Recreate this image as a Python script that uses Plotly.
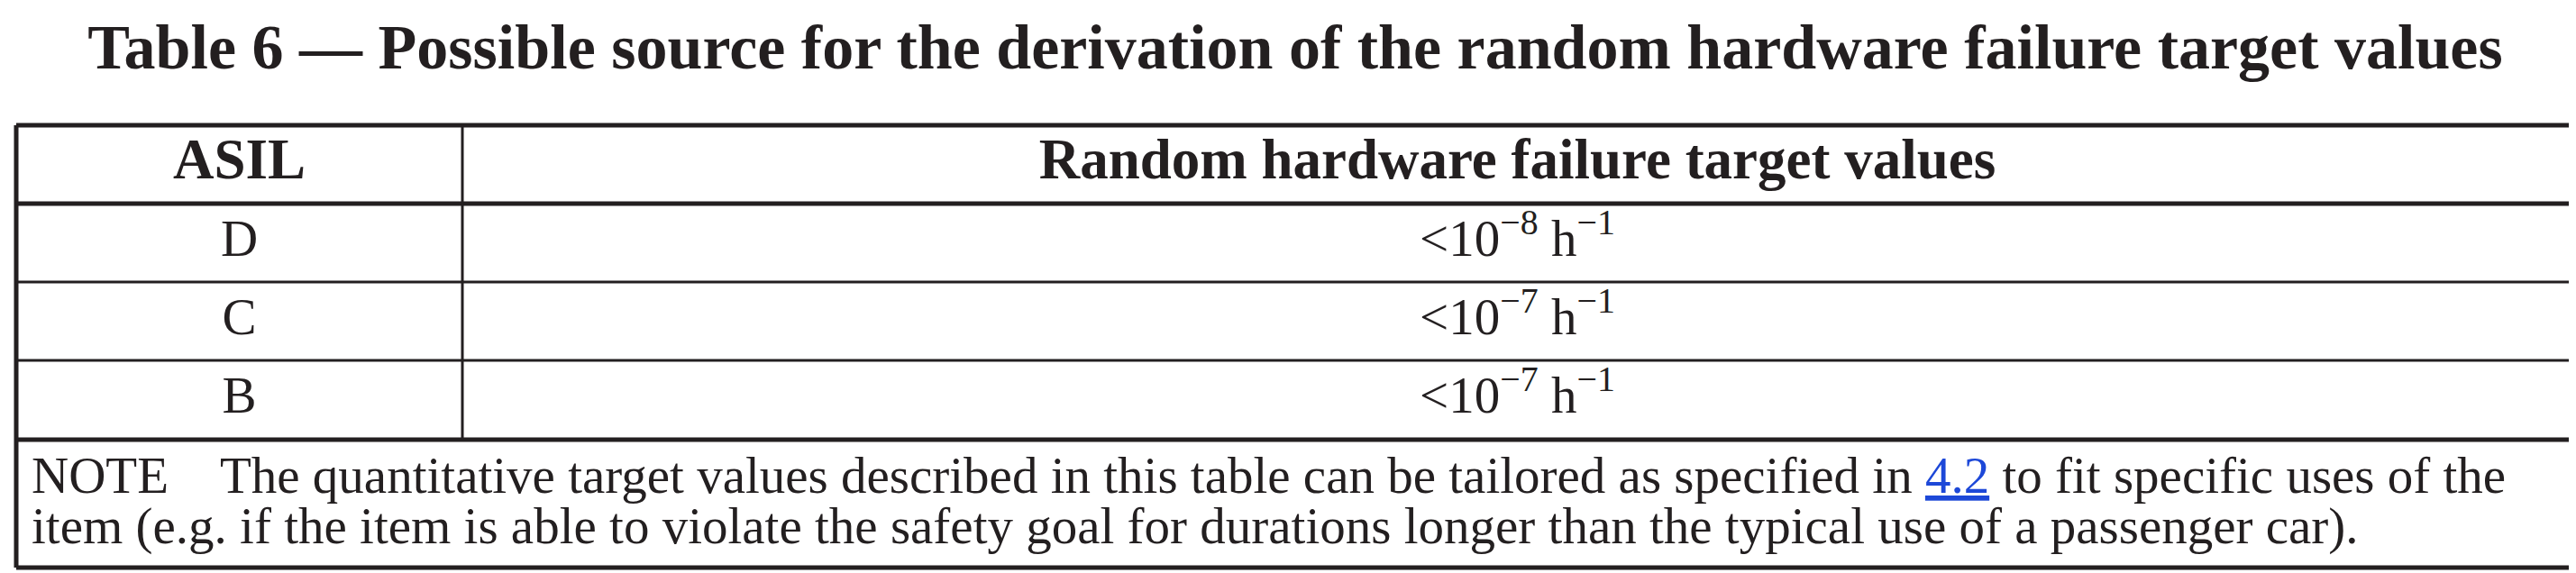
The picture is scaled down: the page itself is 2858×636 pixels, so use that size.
import plotly.graph_objects as go

W, H = 2858, 636

title = "Table 6 — Possible source for the derivation of the random hardware failure target values"
headers = ["ASIL", "Random hardware failure target values"]
asil = ["D", "C", "B"]
exponents = [-8, -7, -7]
unit_exp = -1
note_lines = [
    "NOTE\u00a0\u00a0\u00a0\u00a0The quantitative target values described in this table can be tailored as specified in "
    "<span style='color:#1d48d8'><u>4.2</u></span> to fit specific uses of the",
    "item (e.g. if the item is able to violate the safety goal for durations longer than the typical use of a passenger car).",
]

ink = "#231f20"
serif = "Liberation Serif"

# table geometry (px, y measured from top)
x_left, x_div, x_right = 10, 505, 2846
row_edges = [131, 218, 305, 392, 480, 622]
note_mid = [519, 576]

col_mid = [(x_left + x_div) / 2, (x_div + x_right) / 2]
row_mid = [(row_edges[i] + row_edges[i + 1]) / 2 for i in range(len(row_edges) - 1)]


def sup(n):
    return "<sup>" + str(n).replace("-", "−") + "</sup>"


values = ["<10" + sup(e) + " h" + sup(unit_exp) for e in exponents]

fig = go.Figure()

# header row
fig.add_trace(go.Scatter(
    x=col_mid, y=[row_mid[0]] * 2,
    mode="text",
    text=["<b>" + h + "</b>" for h in headers],
    textposition="middle center",
    textfont=dict(family=serif, size=63, color=ink),
    hoverinfo="skip",
))

# body rows
fig.add_trace(go.Scatter(
    x=[col_mid[0]] * len(asil) + [col_mid[1]] * len(values),
    y=row_mid[1:4] + row_mid[1:4],
    mode="text",
    text=asil + values,
    textposition="middle center",
    textfont=dict(family=serif, size=57, color=ink),
    hoverinfo="skip",
))

# grid lines
thick, thin = 5, 3
lines = []
for i, y in enumerate(row_edges):
    w = thick if i in (0, 1, 4, 5) else thin
    lines.append(dict(x0=x_left, x1=x_right, y0=y, y1=y, w=w))
lines.append(dict(x0=x_left, x1=x_left, y0=row_edges[0], y1=row_edges[-1], w=thick))
lines.append(dict(x0=x_right, x1=x_right, y0=row_edges[0], y1=row_edges[-1], w=thick))
lines.append(dict(x0=x_div, x1=x_div, y0=row_edges[0], y1=row_edges[4], w=thin))

for l in lines:
    fig.add_shape(type="line", xref="x", yref="y",
                  x0=l["x0"], x1=l["x1"], y0=l["y0"], y1=l["y1"],
                  line=dict(color=ink, width=l["w"]))

for txt, ym in zip(note_lines, note_mid):
    fig.add_annotation(
        x=25, y=ym, xref="x", yref="y",
        text=txt, showarrow=False,
        xanchor="left", yanchor="middle",
        font=dict(family=serif, size=57, color=ink),
    )

fig.update_layout(
    width=W, height=H,
    margin=dict(l=0, r=0, t=0, b=0),
    paper_bgcolor="white",
    plot_bgcolor="white",
    showlegend=False,
    title=dict(
        text="<b>" + title + "</b>",
        x=0.5, xanchor="center",
        y=1 - 43 / H, yanchor="middle", yref="container",
        font=dict(family=serif, size=70, color=ink),
    ),
    xaxis=dict(range=[0, W], visible=False, fixedrange=True),
    yaxis=dict(range=[H, 0], visible=False, fixedrange=True),
)

fig.write_html("out.html")
